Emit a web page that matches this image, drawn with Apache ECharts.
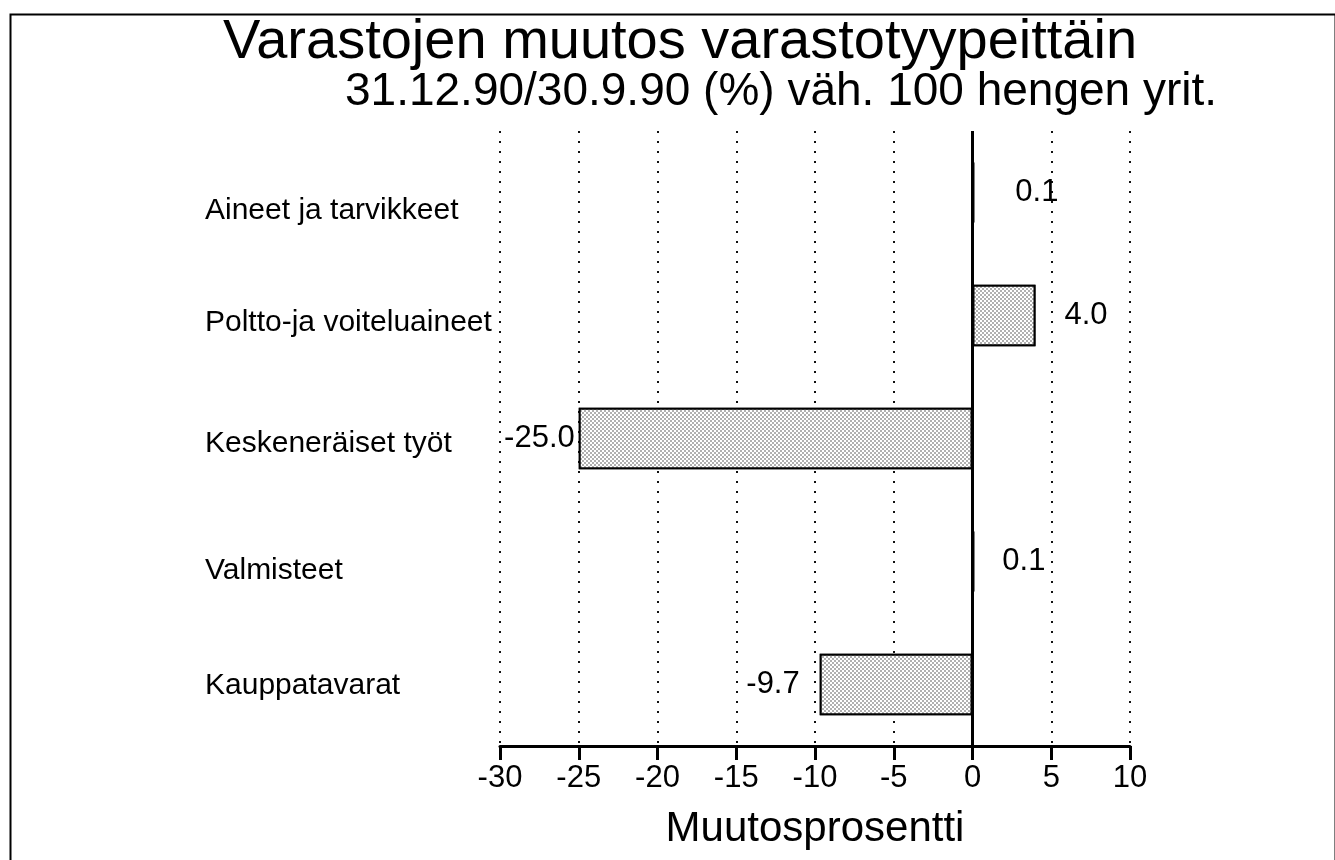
<!DOCTYPE html>
<html>
<head>
<meta charset="utf-8">
<script src="https://cdn.jsdelivr.net/npm/echarts@6/dist/echarts.min.js"></script>
<style>
html,body{margin:0;padding:0;background:#fff;}
#chart{width:1335px;height:860px;}
</style>
</head>
<body>
<div id="chart"></div>
<script>
const titleText = 'Varastojen muutos varastotyypeittäin';
const subtitleText = '31.12.90/30.9.90 (%) väh. 100 hengen yrit.';
const categories = ['Aineet ja tarvikkeet', 'Poltto-ja voiteluaineet', 'Keskeneräiset työt', 'Valmisteet', 'Kauppatavarat'];
const values = [0.1, 4.0, -25.0, 0.1, -9.7];
const xTicks = [-30, -25, -20, -15, -10, -5, 0, 5, 10];
const xAxisName = 'Muutosprosentti';

const labelGap = [41, 29, 4, 28, 20];
const catLabelShift = [18, 7, 5, 9, 1];
const FONT = '"Liberation Sans", Arial, Helvetica, sans-serif';

const chart = echarts.init(document.getElementById('chart'));
const barData = values.map((v, i) => ({
  value: v,
  label: {
    position: v >= 0 ? 'right' : 'left',
    distance: labelGap[i]
  }
}));

const catRich = {};
catLabelShift.forEach((s, i) => {
  catRich['c' + i] = { fontFamily: FONT, fontSize: 30, color: '#000', padding: [s * 2, 0, 0, 0] };
});

chart.setOption({
  backgroundColor: '#fff',
  animation: false,
  title: [
    { text: titleText, left: 218, top: 10,
      textStyle: { fontFamily: FONT, fontSize: 56, fontWeight: 'normal', color: '#000' } },
    { text: subtitleText, left: 340, top: 64,
      textStyle: { fontFamily: FONT, fontSize: 46, fontWeight: 'normal', color: '#000' } }
  ],
  graphic: [{
    type: 'rect', left: 8, top: 12, silent: true,
    shape: { width: 1325, height: 900 },
    style: { fill: 'none', stroke: '#000', lineWidth: 2 }
  }],
  grid: { left: 500, right: 205, top: 131, bottom: 114, containLabel: false },
  xAxis: {
    type: 'value',
    min: xTicks[0], max: xTicks[xTicks.length - 1], interval: 5,
    name: xAxisName, nameLocation: 'middle', nameGap: 62,
    nameTextStyle: { fontFamily: FONT, fontSize: 42, color: '#000' },
    axisLine: { show: true, onZero: false, lineStyle: { color: '#000', width: 3 } },
    axisTick: { show: true, inside: false, length: 14, lineStyle: { color: '#000', width: 3 } },
    axisLabel: { fontFamily: FONT, fontSize: 31, color: '#000', margin: 17 },
    splitLine: { show: true, lineStyle: { color: '#111', width: 2, type: [2, 8] } }
  },
  yAxis: {
    type: 'category', data: categories, inverse: true,
    axisLine: { show: false }, axisTick: { show: false }, splitLine: { show: false },
    axisLabel: {
      align: 'left', margin: 295,
      formatter: (v, i) => '{c' + i + '|' + v + '}',
      rich: catRich
    }
  },
  series: [{
    type: 'bar',
    data: barData,
    barWidth: '50%',
    itemStyle: {
      color: '#c6c6c6', borderColor: '#000', borderWidth: 2,
      decal: {
        symbol: 'rect', symbolSize: 0.62, color: '#000', backgroundColor: '#fff',
        dashArrayX: [[2, 2], [0, 2, 2, 0]], dashArrayY: [2, 0]
      }
    },
    label: {
      show: true, fontFamily: FONT, fontSize: 31, color: '#000',
      formatter: p => p.value.toFixed(1)
    },
    markLine: {
      silent: true, symbol: 'none', label: { show: false },
      lineStyle: { color: '#000', width: 3, type: 'solid' },
      data: [{ xAxis: 0 }]
    }
  }]
});
</script>
</body>
</html>
